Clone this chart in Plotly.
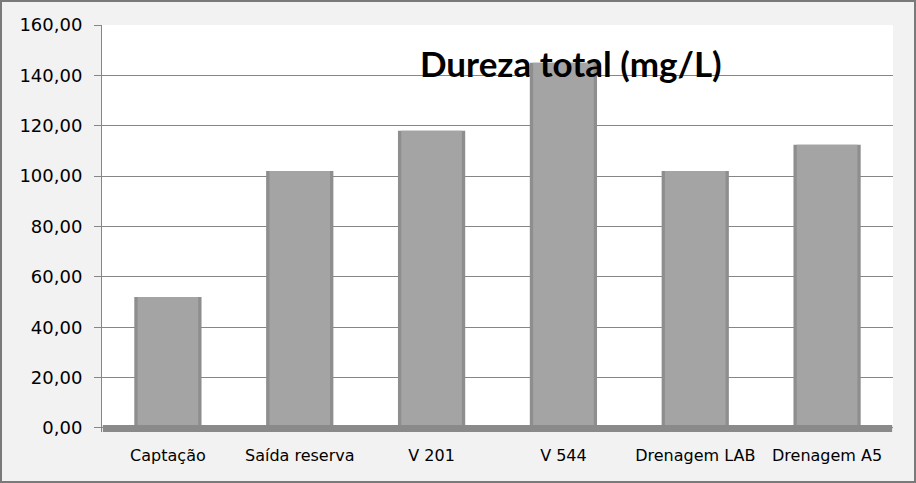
import plotly.graph_objects as go

categories = ["Captação", "Saída reserva", "V 201", "V 544", "Drenagem LAB", "Drenagem A5"]
values = [52.0, 102.0, 118.0, 145.0, 102.0, 112.5]
y_ticks = [0, 20, 40, 60, 80, 100, 120, 140, 160]
y_tick_labels = ["0,00", "20,00", "40,00", "60,00", "80,00", "100,00", "120,00", "140,00", "160,00"]
title_text = "Dureza total (mg/L)"

W, H = 916, 483
ML, MR, MT, MB = 102, 23, 25, 51
PW, PH = W - ML - MR, H - MT - MB

fig = go.Figure()
fig.add_trace(go.Bar(x=categories, y=values, width=0.51,
                     marker=dict(color="#8e8e8e", line=dict(width=0)), hoverinfo="skip"))
fig.add_trace(go.Bar(x=categories, y=values, width=0.46,
                     marker=dict(color="#a4a4a4", line=dict(width=0)), hoverinfo="skip"))

shapes = [
    # floor
    dict(type="rect", xref="paper", yref="y", x0=0.001, x1=0.999, y0=-1.6, y1=1.2,
         fillcolor="#8a8a8a", line=dict(width=0), layer="above"),
    # outer border
    dict(type="rect", xref="paper", yref="paper",
         x0=(-ML + 1) / PW, x1=1 + (MR - 1) / PW,
         y0=(-MB + 1) / PH, y1=1 + (MT - 1) / PH,
         line=dict(color="#7a7a7a", width=2), fillcolor="rgba(0,0,0,0)"),
]

fig.update_layout(
    width=W, height=H,
    margin=dict(l=ML, r=MR, t=MT, b=MB),
    paper_bgcolor="#f2f2f2", plot_bgcolor="#ffffff",
    barmode="overlay", showlegend=False,
    bargap=0.49,
    shapes=shapes,
    annotations=[dict(text="<b>" + title_text + "</b>", xref="paper", yref="paper",
                      x=(571 - ML) / PW, y=1 - (63 - MT) / PH, showarrow=False,
                      xanchor="center", yanchor="middle",
                      font=dict(family="Lato", size=35, color="#000000"))],
    xaxis=dict(showgrid=False, showline=False, ticks="", ticklabelstandoff=12,
               tickfont=dict(family="DejaVu Sans", size=16, color="#000000"),
               range=[-0.5, 5.5]),
    yaxis=dict(range=[-1.6, 160], tickmode="array", tickvals=y_ticks, ticktext=y_tick_labels,
               showgrid=True, gridcolor="#868686", gridwidth=1,
               showline=True, linecolor="#868686", linewidth=1,
               ticks="outside", ticklen=7, tickcolor="#868686", ticklabelstandoff=8,
               zeroline=False,
               tickfont=dict(family="DejaVu Sans", size=18, color="#000000")),
)

fig.write_html("out.html")
